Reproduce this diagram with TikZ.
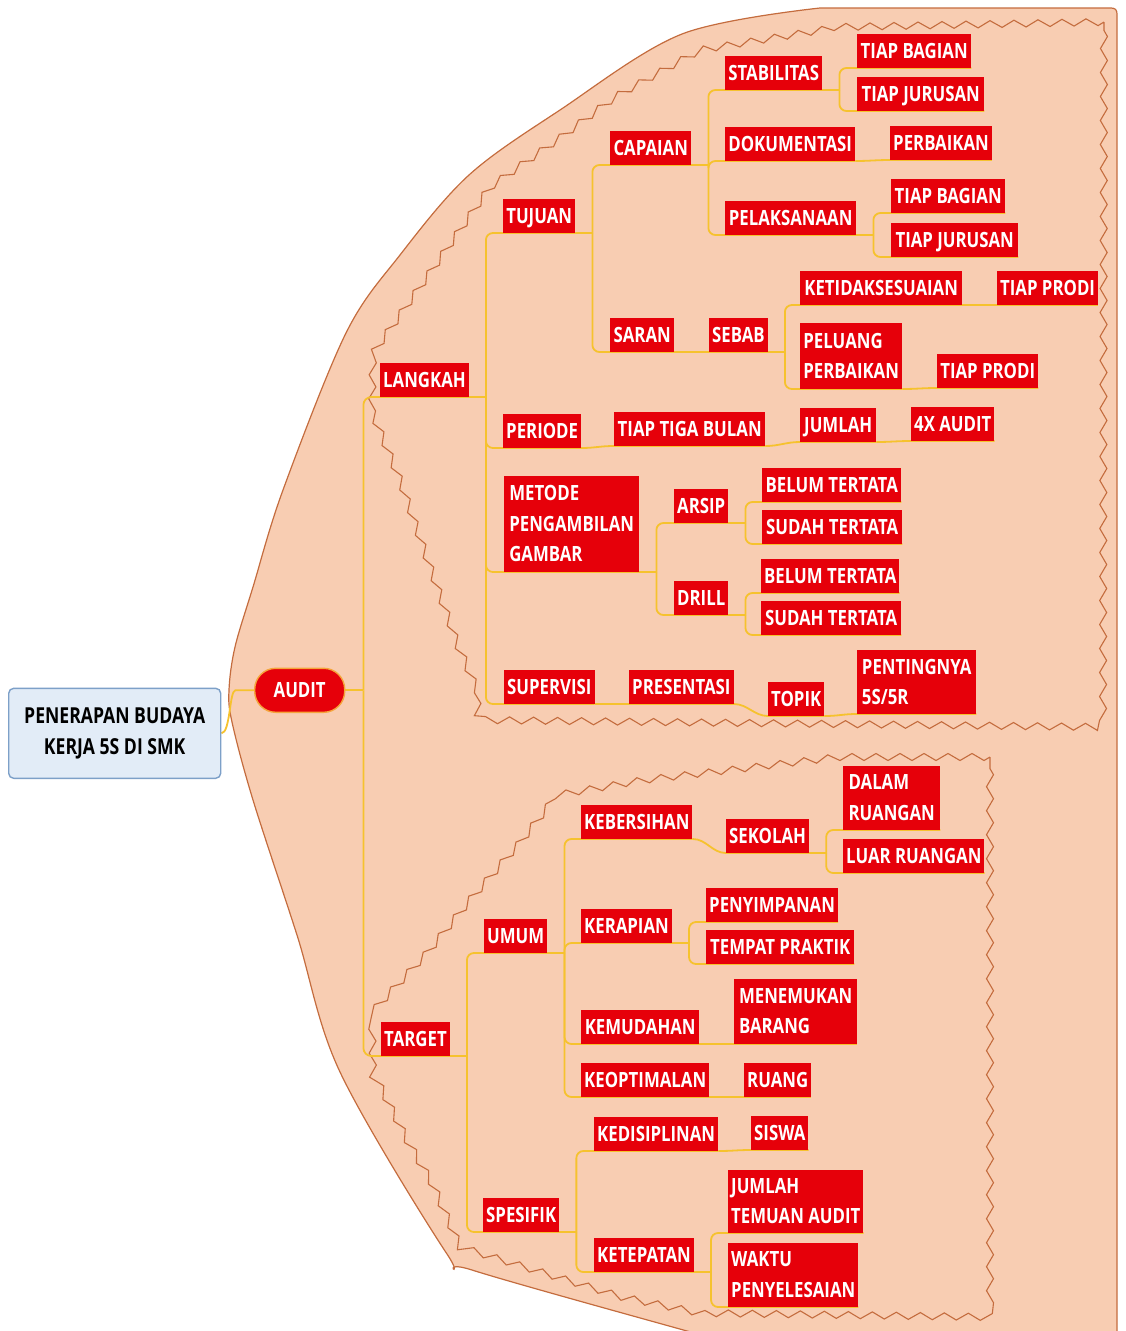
\documentclass[tikz,border=0pt]{standalone}
\usepackage{fontspec}
\setmainfont{Open Sans}[FakeStretch=0.80]
\usetikzlibrary{decorations.pathmorphing}
\pgfdeclarelayer{back}
\pgfdeclarelayer{wires}
\pgfsetlayers{back,wires,main}

\definecolor{peach}{RGB}{248,205,178}
\definecolor{rim}{RGB}{196,108,62}
\definecolor{topicred}{RGB}{230,0,10}
\definecolor{wire}{RGB}{246,194,46}
\definecolor{rootfill}{RGB}{226,236,247}
\definecolor{rootrim}{RGB}{125,160,200}

\newcommand\topicfont{\bfseries\fontsize{21}{30.5}\selectfont}
\newcommand\rootfont{\bfseries\fontsize{22}{31}\selectfont}

\tikzset{
  topic/.style={anchor=south west, fill=topicred, text=white, font=\topicfont,
    inner xsep=3pt, inner ysep=9.5pt, text height=15pt, text depth=0pt,
    minimum width=#1},
  topicml/.style={anchor=south west, fill=topicred, text=white, font=\topicfont,
    align=left, inner xsep=3pt, inner ysep=0pt, minimum width=#1},
  rootbox/.style={anchor=south west, draw=rootrim, fill=rootfill, line width=1.4pt,
    rounded corners=5pt, align=center, text=black, font=\rootfont},
  hub/.style={anchor=south west, fill=topicred, draw={rgb,255:red,245;green,165;blue,60},
    line width=1.4pt, rounded corners=21pt, text=white, font=\topicfont},
  link/.style={draw=wire, line width=1.8pt},
  outline/.style={draw=rim, line width=1.2pt},
  zig/.style={draw=rim, line width=1.1pt, decorate,
    decoration={zigzag, segment length=24pt, amplitude=3.5pt}},
}

% a parent hands its line to a vertical spine, each child hangs off it
\newcommand\mmfork[2]{%
  \draw[link] (#1.south east) -- ++(17,0) coordinate (#1-j);
  \foreach \kid in {#2}{\draw[link, rounded corners=7pt] (#1-j) |- (\kid.south west) -- (\kid.south east);}}
% a parent with a single child
\newcommand\mmnext[2]{%
  \draw[link] (#1.south east) .. controls +(14,0) and +(-14,0) .. (#2.south west) -- (#2.south east);}

\begin{document}
\begin{tikzpicture}[x=1pt, y=-1pt]
\useasboundingbox (0,0) rectangle (1125,1331);

% ---------- topics ----------
\node[rootbox, minimum width=212pt, minimum height=90pt] (root) at (8,779) {PENERAPAN BUDAYA\\KERJA 5S DI SMK};
\node[hub, minimum width=90pt, minimum height=44pt] (audit) at (254,713) {AUDIT};

\node[topic=88] (langkah) at (380,397) {LANGKAH};
\node[topic=72] (tujuan) at (503,233) {TUJUAN};
\node[topic=81] (capaian) at (610,165) {CAPAIAN};
\node[topic=97] (stabil) at (725,90) {STABILITAS};
\node[topic=114] (tbA) at (857,68) {TIAP BAGIAN};
\node[topic=127] (tjA) at (857,111) {TIAP JURUSAN};
\node[topic=130] (dokum) at (725,161) {DOKUMENTASI};
\node[topic=101] (perbA) at (890,160) {PERBAIKAN};
\node[topic=131] (pelak) at (725,235) {PELAKSANAAN};
\node[topic=114] (tbB) at (891,213) {TIAP BAGIAN};
\node[topic=127] (tjB) at (891,257) {TIAP JURUSAN};
\node[topic=64] (saran) at (610,352) {SARAN};
\node[topic=56] (sebab) at (709,352) {SEBAB};
\node[topic=162] (ketid) at (800,305) {KETIDAKSESUAIAN};
\node[topic=100] (tpA) at (997,305) {TIAP PRODI};
\node[topicml=102, minimum height=66pt] (peluang) at (800,389) {PELUANG\\PERBAIKAN};
\node[topic=101] (tpB) at (937,388) {TIAP PRODI};
\node[topic=76] (periode) at (503,448) {PERIODE};
\node[topic=151] (ttb) at (614,446) {TIAP TIGA BULAN};
\node[topic=76] (jumlah) at (800,442) {JUMLAH};
\node[topic=83] (xaudit) at (911,441) {4X AUDIT};
\node[topicml=135, minimum height=96pt] (metode) at (504,572) {METODE\\PENGAMBILAN\\GAMBAR};
\node[topic=53] (arsip) at (674,523) {ARSIP};
\node[topic=139] (btA) at (762,502) {BELUM TERTATA};
\node[topic=140] (stA) at (762,544) {SUDAH TERTATA};
\node[topic=52] (drill) at (674,615) {DRILL};
\node[topic=138] (btB) at (761,593) {BELUM TERTATA};
\node[topic=140] (stB) at (761,635) {SUDAH TERTATA};
\node[topic=90] (superv) at (504,704) {SUPERVISI};
\node[topic=103] (present) at (629,704) {PRESENTASI};
\node[topic=53] (topik) at (768,716) {TOPIK};
\node[topicml=119, minimum height=64pt] (penting) at (857,714) {PENTINGNYA\\5S/5R};

\node[topic=67] (target) at (381,1056) {TARGET};
\node[topic=61] (umum) at (484,953) {UMUM};
\node[topic=110] (bersih) at (581,839) {KEBERSIHAN};
\node[topic=81] (sekolah) at (726,853) {SEKOLAH};
\node[topicml=97, minimum height=64pt] (dalam) at (843,830) {DALAM\\RUANGAN};
\node[topic=141] (luar) at (843,873) {LUAR RUANGAN};
\node[topic=89] (rapi) at (581,943) {KERAPIAN};
\node[topic=131] (simpan) at (706,922) {PENYIMPANAN};
\node[topic=148] (tempat) at (706,964) {TEMPAT PRAKTIK};
\node[topic=118] (mudah) at (581,1044) {KEMUDAHAN};
\node[topicml=123, minimum height=65pt] (temu) at (734,1044) {MENEMUKAN\\BARANG};
\node[topic=128] (optimal) at (581,1097) {KEOPTIMALAN};
\node[topic=65] (ruang) at (744,1097) {RUANG};
\node[topic=122] (disiplin) at (594,1151) {KEDISIPLINAN};
\node[topic=57] (siswa) at (751,1150) {SISWA};
\node[topic=75] (spesifik) at (483,1232) {SPESIFIK};
\node[topic=99] (tepat) at (594,1272) {KETEPATAN};
\node[topicml=135, minimum height=63pt] (jta) at (728,1233) {JUMLAH\\TEMUAN AUDIT};
\node[topicml=129, minimum height=64pt] (waktu) at (728,1307) {WAKTU\\PENYELESAIAN};

% ---------- boundaries ----------
\begin{pgfonlayer}{back}
  \path[outline, fill=peach] (1117,1345) -- (1117,16) .. controls (1117,9) and (1116,8) .. (1109,8) -- (820,8)
    -- plot[smooth, tension=0.55] coordinates {(820,8) (682,34) (560,110) (469,175) (400,255) (346,333)
       (283,490) (253,587) (235,647) (229,690) (232,722) (253,800) (297,935) (340,1072) (447,1254)
       (472,1270) (687,1331) (740,1345)} -- cycle;
  \draw[zig] (1104,22) -- (840,27) -- (700,50) -- (615,97) -- (560,138) -- (490,187) -- (434,267)
    -- (373,353) -- (372,412) -- (400,480) -- (430,567) -- (457,643) -- (477,690) -- (478,720)
    -- (1103,727) -- cycle;
  \draw[zig] (990,757) -- (839,757) -- (730,770) -- (644,780) -- (557,795) -- (522,840) -- (470,900)
    -- (427,953) -- (372,1012) -- (373,1072) -- (407,1140) -- (433,1185) -- (460,1247) -- (544,1273)
    -- (622,1297) -- (700,1313) -- (990,1317) -- cycle;
\end{pgfonlayer}

% ---------- connectors ----------
\begin{pgfonlayer}{wires}
  \draw[link] (root.east) .. controls +(9,0) and +(-6,0) .. ([xshift=14pt]root.east |- audit.west) -- (audit.west);
  \draw[link] (audit.east) -- ++(18,0) coordinate (audit-j);
  \foreach \kid in {langkah,target}{\draw[link, rounded corners=8pt] (audit-j) |- (\kid.south west) -- (\kid.south east);}

  \mmfork{langkah}{tujuan,periode,metode,superv}
  \mmfork{tujuan}{capaian,saran}
  \mmfork{capaian}{stabil,dokum,pelak}
  \mmfork{stabil}{tbA,tjA}
  \mmnext{dokum}{perbA}
  \mmfork{pelak}{tbB,tjB}
  \mmnext{saran}{sebab}
  \mmfork{sebab}{ketid,peluang}
  \mmnext{ketid}{tpA}
  \mmnext{peluang}{tpB}
  \mmnext{periode}{ttb}
  \mmnext{ttb}{jumlah}
  \mmnext{jumlah}{xaudit}
  \mmfork{metode}{arsip,drill}
  \mmfork{arsip}{btA,stA}
  \mmfork{drill}{btB,stB}
  \mmnext{superv}{present}
  \mmnext{present}{topik}
  \mmnext{topik}{penting}

  \mmfork{target}{umum,spesifik}
  \mmfork{umum}{bersih,rapi,mudah,optimal}
  \mmnext{bersih}{sekolah}
  \mmfork{sekolah}{dalam,luar}
  \mmfork{rapi}{simpan,tempat}
  \mmnext{mudah}{temu}
  \mmnext{optimal}{ruang}
  \mmfork{spesifik}{disiplin,tepat}
  \mmnext{disiplin}{siswa}
  \mmfork{tepat}{jta,waktu}
\end{pgfonlayer}
\end{tikzpicture}
\end{document}
